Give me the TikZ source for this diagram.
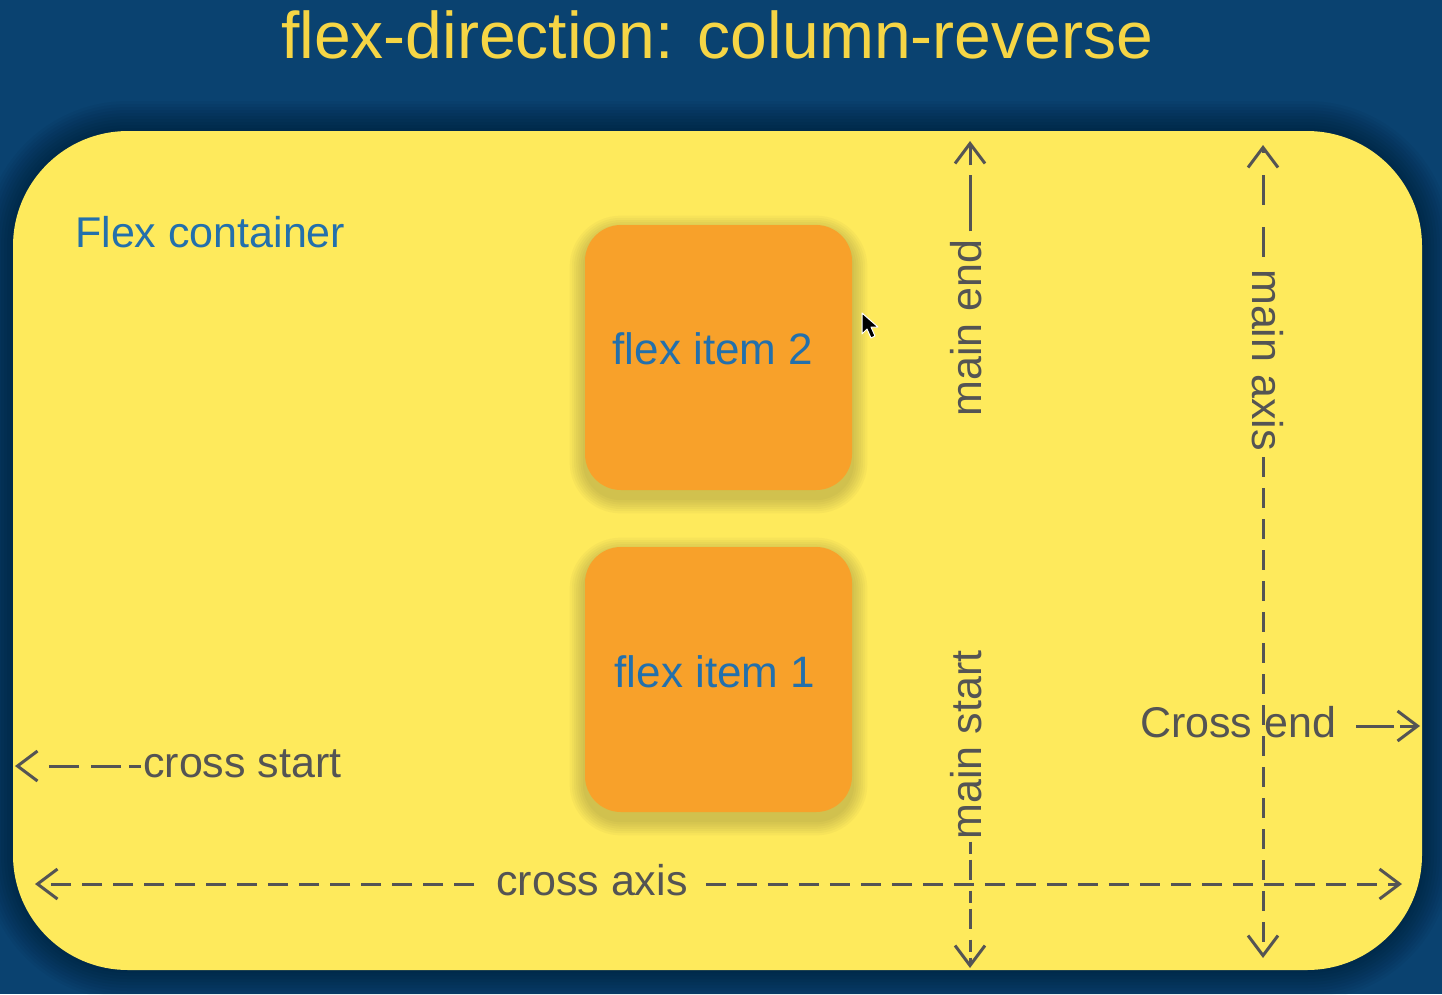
\documentclass[tikz,border=0pt]{standalone}
\usepackage{fontspec}
\setmainfont{Liberation Sans}
\usetikzlibrary{arrows.meta}
\definecolor{bgblue}{HTML}{0A4270}
\definecolor{boxyellow}{HTML}{FEEA5C}
\definecolor{titleyellow}{HTML}{F6D545}
\definecolor{itemorange}{HTML}{F8A12A}
\definecolor{textblue}{HTML}{2370AC}
\definecolor{axisgrey}{HTML}{545454}
\tikzset{
  lbl/.style={font=\fontsize{43}{50}\selectfont, text=axisgrey, inner sep=0pt, anchor=base},
  axisln/.style={draw=axisgrey, line width=3pt, dash pattern=on 20pt off 11pt,
    -{Straight Barb[length=20pt,width=30pt]}},
  itembox/.style={fill=itemorange, rounded corners=36pt, minimum width=267pt,
    minimum height=265pt, inner sep=0pt},
  itemtext/.style={font=\fontsize{44}{50}\selectfont, text=textblue, inner sep=0pt, anchor=base},
}
\begin{document}
\begin{tikzpicture}[x=1pt,y=-1pt]
\useasboundingbox (0,0) rectangle (1442,994);
\fill[bgblue] (0,0) rectangle (1442,994);
% shadow of the container
\foreach \k in {1,...,10}{
  \pgfmathsetmacro{\d}{\k*3}
  \pgfmathsetmacro{\r}{115+\k*3}
  \fill[black, opacity=0.035, rounded corners=\r pt] (13-\d,131-\d) rectangle (1422+\d,970+\d);
}
% title
\node[font=\fontsize{66}{72}\selectfont, text=titleyellow, inner sep=0pt, anchor=base] (title) at (717,58) {flex-direction: column-reverse};
% container
\node[fill=boxyellow, rounded corners=115pt, minimum width=1409pt, minimum height=839pt, inner sep=0pt] (container) at (717.5,550.5) {};
\node[font=\fontsize{43}{50}\selectfont, text=textblue, inner sep=0pt, anchor=base west] (flexlbl) at (75,247) {Flex container};
% item shadows
\foreach \cy in {357.5,679.5}{
  \foreach \k in {1,...,7}{
    \pgfmathsetmacro{\d}{\k*2.2}
    \pgfmathsetmacro{\r}{36+\k*2.2}
    \fill[black!70!olive, opacity=0.035, rounded corners=\r pt] (585-\d,\cy-132.5-\d+6) rectangle (852+\d,\cy+132.5+\d+8);
  }
}
\node[itembox] (item2) at (718.5,357.5) {};
\node[itemtext] (item2txt) at (713,364) {flex item 2};
\node[itembox] (item1) at (718.5,679.5) {};
\node[itemtext] (item1txt) at (715,687) {flex item 1};
% cursor
\fill[black, draw=white, line width=1pt, line join=round] (862,313) -- (862,334) -- (867,329) -- (871,338) -- (875,336) -- (871,327) -- (878,327) -- cycle;
% main end / main start axis
\coordinate (meTip) at (970,141);
\coordinate (msTip) at (970,968);
\node[lbl, rotate=90] (mainend) at (981,328) {main end};
\node[lbl, rotate=90] (mainstart) at (981,745) {main start};
\draw[axisln, dash pattern=on 56pt off 10pt, shorten <=8pt] (meTip |- mainend.east) -- (meTip);
\draw[axisln, dash pattern=on 12pt off 6pt on 20pt off 11pt, shorten <=2pt] (msTip |- mainstart.west) -- (msTip);
% main axis
\coordinate (maTopTip) at (1263,145);
\coordinate (maBotTip) at (1263,958);
\node[lbl, rotate=-90] (mainaxis) at (1252,360) {main axis};
\draw[axisln, dash pattern=on 30pt off 22pt, shorten <=12pt] (maTopTip |- mainaxis.west) -- (maTopTip);
\draw[axisln, shorten <=6pt] (maBotTip |- mainaxis.east) -- (maBotTip);
% cross start
\coordinate (csTip) at (15,766);
\node[lbl, anchor=base west] (crossstart) at (143,777) {cross start};
\draw[axisln, dash pattern=on 12pt off 8pt on 30pt off 12pt on 30pt off 40pt, shorten <=2pt] (csTip -| crossstart.west) -- (csTip);
% cross end
\coordinate (ceTip) at (1420,726);
\node[lbl] (crossend) at (1238,737) {Cross end};
\draw[axisln, dash pattern=on 38pt off 6pt, shorten <=20pt] (ceTip -| crossend.east) -- (ceTip);
% cross axis
\coordinate (caLeftTip) at (35,884);
\coordinate (caRightTip) at (1402,884);
\node[lbl] (crossaxis) at (592,895) {cross axis};
\draw[axisln, shorten <=22pt] (caLeftTip -| crossaxis.west) -- (caLeftTip);
\draw[axisln, shorten <=18pt] (caRightTip -| crossaxis.east) -- (caRightTip);
\end{tikzpicture}
\end{document}
